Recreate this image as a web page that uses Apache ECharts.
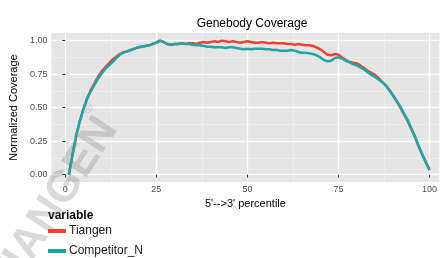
<!DOCTYPE html>
<html>
<head>
<meta charset="utf-8">
<script src="https://cdn.jsdelivr.net/npm/echarts@6/dist/echarts.min.js"></script>
<style>
  html, body { margin: 0; padding: 0; background: #fff; }
  #chart { width: 440px; height: 258px; }
</style>
</head>
<body>
<div id="chart"></div>
<script>
// genebody coverage, 5' -> 3' percentile
var percentile = [1, 2, 3, 4, 5, 6, 7, 8, 9, 10,
  11, 12, 13, 14, 15, 16, 17, 18, 19, 20,
  21, 22, 23, 24, 25, 26, 27, 28, 29, 30,
  31, 32, 33, 34, 35, 36, 37, 38, 39, 40,
  41, 42, 43, 44, 45, 46, 47, 48, 49, 50,
  51, 52, 53, 54, 55, 56, 57, 58, 59, 60,
  61, 62, 63, 64, 65, 66, 67, 68, 69, 70,
  71, 72, 73, 74, 75, 76, 77, 78, 79, 80,
  81, 82, 83, 84, 85, 86, 87, 88, 89, 90,
  91, 92, 93, 94, 95, 96, 97, 98, 99, 100];

var tiangen = [0.00, 0.15, 0.29, 0.40, 0.49, 0.57, 0.63, 0.68, 0.73, 0.77,
  0.80, 0.83, 0.86, 0.88, 0.90, 0.915, 0.92, 0.93, 0.94, 0.95,
  0.955, 0.96, 0.965, 0.975, 0.985, 1.00, 0.99, 0.975, 0.97, 0.975,
  0.975, 0.98, 0.975, 0.98, 0.98, 0.975, 0.985, 0.99, 0.985, 0.99,
  0.995, 0.99, 1.00, 0.995, 0.99, 0.995, 0.99, 0.985, 0.99, 0.995,
  0.99, 0.985, 0.985, 0.99, 0.985, 0.98, 0.985, 0.98, 0.98, 0.98,
  0.975, 0.975, 0.97, 0.975, 0.97, 0.965, 0.965, 0.96, 0.95, 0.935,
  0.915, 0.895, 0.89, 0.90, 0.895, 0.875, 0.855, 0.84, 0.835, 0.83,
  0.815, 0.795, 0.775, 0.76, 0.745, 0.72, 0.69, 0.665, 0.63, 0.59,
  0.545, 0.50, 0.45, 0.40, 0.34, 0.28, 0.21, 0.15, 0.09, 0.035];

var competitorN = [0.00, 0.15, 0.29, 0.40, 0.49, 0.565, 0.62, 0.67, 0.715, 0.755,
  0.79, 0.815, 0.84, 0.87, 0.895, 0.91, 0.92, 0.93, 0.94, 0.95,
  0.955, 0.96, 0.965, 0.975, 0.985, 1.00, 0.99, 0.975, 0.97, 0.975,
  0.975, 0.98, 0.975, 0.975, 0.97, 0.965, 0.965, 0.96, 0.955, 0.955,
  0.95, 0.95, 0.95, 0.945, 0.95, 0.95, 0.945, 0.94, 0.935, 0.94,
  0.935, 0.94, 0.94, 0.94, 0.935, 0.935, 0.93, 0.93, 0.925, 0.925,
  0.925, 0.93, 0.925, 0.915, 0.91, 0.91, 0.905, 0.90, 0.89, 0.875,
  0.855, 0.845, 0.85, 0.87, 0.875, 0.865, 0.85, 0.84, 0.825, 0.815,
  0.80, 0.785, 0.765, 0.745, 0.73, 0.71, 0.69, 0.665, 0.63, 0.59,
  0.55, 0.505, 0.455, 0.405, 0.345, 0.285, 0.215, 0.15, 0.09, 0.035];

var xTicks = [0, 25, 50, 75, 100];
var xMinor = [12.5, 37.5, 62.5, 87.5];
var yTicks = [0, 0.25, 0.5, 0.75, 1];
var yMinor = [0.125, 0.375, 0.625, 0.875];

function zip(xs, ys) {
  return xs.map(function (x, i) { return [x, ys[i]]; });
}

var font = 'Liberation Sans, Arial, sans-serif';
var chart = echarts.init(document.getElementById('chart'));

var option = {
  animation: false,
  title: {
    text: 'Genebody Coverage',
    left: 247,
    top: 13,
    textAlign: 'center',
    textStyle: { fontFamily: font, fontSize: 12, fontWeight: 'normal', color: '#000' }
  },
  legend: {
    data: ['Tiangen', 'Competitor_N'],
    orient: 'vertical',
    left: 48,
    top: 224,
    padding: 0,
    icon: 'rect',
    itemWidth: 18,
    itemHeight: 4,
    itemGap: 6,
    textStyle: { fontFamily: font, fontSize: 12, color: '#1a1a1a', lineHeight: 14, padding: [0, 0, 0, -2] }
  },
  grid: {
    left: 48, right: 0, top: 33, bottom: 76,
    show: true, backgroundColor: '#E5E5E5', borderWidth: 0
  },
  xAxis: [{
    type: 'value', min: -3.8, max: 102.7,
    name: "5'-->3' percentile", nameLocation: 'middle', nameGap: 14,
    nameTextStyle: { fontFamily: font, fontSize: 11, color: '#000' },
    axisLine: { show: false },
    axisTick: { show: true, length: 3, customValues: xTicks, lineStyle: { color: '#333' } },
    axisLabel: { customValues: xTicks, fontFamily: font, fontSize: 9, color: '#4D4D4D', margin: 3 },
    splitLine: { show: true, lineStyle: { color: '#fff', width: 1.3 } }
  }, {
    type: 'value', min: -3.8, max: 102.7, position: 'bottom',
    axisLine: { show: false },
    axisTick: { show: false, customValues: xMinor },
    axisLabel: { show: false, customValues: xMinor },
    splitLine: { show: true, lineStyle: { color: '#F2F2F2', width: 0.7 } }
  }],
  yAxis: [{
    type: 'value', min: -0.055, max: 1.057,
    name: 'Normalized Coverage', nameLocation: 'middle', nameGap: 23,
    nameTextStyle: { fontFamily: font, fontSize: 11, color: '#000' },
    axisLine: { show: false },
    axisTick: { show: true, length: 3, customValues: yTicks, lineStyle: { color: '#333' } },
    axisLabel: {
      customValues: yTicks, fontFamily: font, fontSize: 9, color: '#4D4D4D', margin: 4,
      formatter: function (v) { return v.toFixed(2); }
    },
    splitLine: { show: true, lineStyle: { color: '#fff', width: 1.3 } }
  }, {
    type: 'value', min: -0.055, max: 1.057, position: 'left',
    axisLine: { show: false },
    axisTick: { show: false, customValues: yMinor },
    axisLabel: { show: false, customValues: yMinor },
    splitLine: { show: true, lineStyle: { color: '#F2F2F2', width: 0.7 } }
  }],
  graphic: [{
    type: 'text',
    x: 108, y: 122,
    rotation: 57 * Math.PI / 180,
    z: 1,
    silent: true,
    style: {
      text: 'TIANGEN',
      fontFamily: font, fontSize: 44, fontWeight: 'bold',
      fill: 'rgba(120,120,120,0.28)',
      align: 'right', verticalAlign: 'middle'
    }
  }, {
    type: 'text',
    x: 88, y: 110,
    z: 1,
    silent: true,
    style: {
      text: '®', fontFamily: font, fontSize: 12,
      fill: 'rgba(120,120,120,0.35)',
      align: 'center', verticalAlign: 'middle'
    }
  }, {
    type: 'text',
    left: 48, top: 210,
    style: { text: 'variable', fontFamily: font, fontSize: 12, fontWeight: 'bold', fill: '#000' }
  }],
  series: [{
    name: 'Tiangen',
    type: 'line',
    data: zip(percentile, tiangen),
    showSymbol: false,
    color: '#EF4136',
    lineStyle: { width: 2.5 },
    z: 3
  }, {
    name: 'Competitor_N',
    type: 'line',
    data: zip(percentile, competitorN),
    showSymbol: false,
    color: '#1FA5A5',
    lineStyle: { width: 2.5 },
    z: 4
  }]
};

chart.setOption(option);
</script>
</body>
</html>
